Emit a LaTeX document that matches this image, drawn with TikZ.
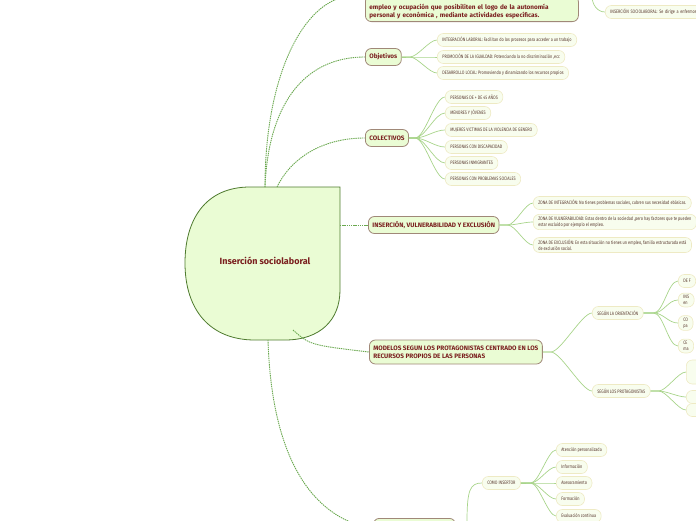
\documentclass[tikz,border=0pt]{standalone}
\usepackage{fontspec}
\setmainfont{Fira Sans}[FakeStretch=0.78]
\newfontfamily\headfont{Fira Sans}
\definecolor{rootfill}{HTML}{EAFCD4}
\definecolor{rootline}{HTML}{4E7A2E}
\definecolor{mainline}{HTML}{A08878}
\definecolor{maintext}{HTML}{7A1E1E}
\definecolor{leaffill}{HTML}{F8FDEE}
\definecolor{leafline}{HTML}{EEEAC4}
\definecolor{leaftext}{HTML}{5A3A30}
\definecolor{twigcol}{HTML}{A8D48A}
\definecolor{stemcol}{HTML}{6AA84F}
\tikzset{
  mainbox/.style={draw=mainline, line width=0.8pt, fill=rootfill, rounded corners=6pt,
    text=maintext, font=\headfont\fontsize{6.4}{7.6}\selectfont\bfseries, align=left,
    inner xsep=4pt, inner ysep=3pt, minimum height=17pt, anchor=west},
  leafbox/.style={draw=leafline, line width=0.6pt, fill=leaffill, rounded corners=6pt,
    text=leaftext, font=\fontsize{4.9}{6.4}\selectfont, align=left,
    inner xsep=5pt, inner ysep=2pt, minimum height=13pt, anchor=west},
  stem/.style={stemcol, line width=0.9pt, dash pattern=on 1.4pt off 0.8pt},
  twig/.style={twigcol, line width=0.7pt},
}
\begin{document}
\begin{tikzpicture}[x=1pt,y=-1pt]
\useasboundingbox (0,0) rectangle (696,520);
\clip (0,0) rectangle (696,520);

% centre
\draw[rootline, fill=rootfill, line width=0.8pt] (340,187) -- (250,187)
  .. controls (205,187) and (185,220) .. (185,263)
  .. controls (185,310) and (210,340) .. (255,340) -- (285,340)
  .. controls (320,340) and (340,320) .. (340,290) -- cycle;
\node[text=maintext, font=\headfont\fontsize{9}{11}\selectfont\bfseries] (root) at (265,261) {Inserción sociolaboral};
\coordinate (rootN) at (265,187);
\coordinate (rootS) at (268,340);

% top branch
\node[mainbox, anchor=south west, text width=205pt] (fines) at (365,22)
  {\phantom{x}\\empleo y ocupación que posibiliten el logo de la autonomía\\personal y económica , mediante actividades específicas.};
\coordinate (offtop) at (340,-2);
\coordinate (offtop2) at (592,-4);
\node[leafbox, text width=110pt] (socio) at (605,12) {INSERCIÓN SOCIOLABORAL: Se dirige a enfermos};
\draw[twig] (offtop2) to[out=-90,in=180] (socio.west);
\draw[stem] (rootN) .. controls (265,80) and (300,10) .. (offtop);

% objetivos
\node[mainbox] (obj) at (365,57) {Objetivos};
\node[leafbox] (o1) at (437,40) {INTEGRACIÓN LABORAL: Facilitan do los procesos para acceder a un trabajo};
\node[leafbox] (o2) at (437,57) {PROMOCIÓN DE LA IGUALDAD: Potenciando la no discriminación ,ecc};
\node[leafbox] (o3) at (437,73) {DESARROLLO LOCAL: Promoviendo y dinamizando los recursos propios};
\draw[stem] (rootN) .. controls (268,110) and (300,57) .. (obj.west);
\foreach \k in {o1,o2,o3}
  \draw[twig] (obj.east) -- ++(8,0) .. controls +(8,0) and +(-8,0) .. (\k.west);

% colectivos
\node[mainbox] (col) at (365,138) {COLECTIVOS};
\node[leafbox] (c1) at (445,97) {PERSONAS DE + DE 45 AÑOS};
\node[leafbox] (c2) at (445,113) {MENORES Y JÓVENES};
\node[leafbox] (c3) at (445,130) {MUJERES VICTIMAS DE LA VIOLENCIA DE GENERO};
\node[leafbox] (c4) at (445,147) {PERSONAS CON DISCAPACIDAD};
\node[leafbox] (c5) at (445,163) {PERSONAS INMIGRANTES};
\node[leafbox] (c6) at (445,179) {PERSONAS CON PROBLEMAS SOCIALES};
\draw[stem] (rootN) ++(12,0) .. controls (290,160) and (320,138) .. (col.west);
\foreach \k in {c1,c2,c3,c4,c5,c6}
  \draw[twig] (col.east) -- ++(6,0) .. controls +(10,0) and +(-10,0) .. (\k.west);

% insercion, vulnerabilidad y exclusion
\node[mainbox] (zon) at (368,225) {INSERCIÓN, VULNERABILIDAD Y EXCLUSIÓN};
\node[leafbox] (z1) at (533,203) {ZONA DE INTEGRACIÓN: No tienes problemas sociales, cubren sus necesidad ebásicas.};
\node[leafbox] (z2) at (533,222) {ZONA DE VULNERABILIDAD: Estas dentro de la sociedad ,pero hay factores que te pueden\\estar excluido por ejemplo el empleo.};
\node[leafbox] (z3) at (533,245) {ZONA DE EXCLUSIÓN: En esta situación no tienes un empleo, familia estructurada está\\de exclusión social.};
\coordinate (rootE) at (340,225);
\draw[stem] (rootE) -- (zon.west);
\foreach \k in {z1,z2,z3}
  \draw[twig] (zon.east) -- ++(8,0) .. controls +(8,0) and +(-8,0) .. (\k.west);

% modelos
\node[mainbox, minimum height=24pt] (mod) at (369,352) {MODELOS SEGUN LOS PROTAGONISTAS CENTRADO EN LOS\\RECURSOS PROPIOS DE LAS PERSONAS};
\node[leafbox] (m1) at (592,313) {SEGÚN LA ORIENTACIÓN};
\node[leafbox] (m2) at (592,391) {SEGÚN LOS PROTAGONISTAS};
\draw[stem] (rootS) ++(25,-10) .. controls (310,345) .. (mod.west);
\foreach \k in {m1,m2}
  \draw[twig] (mod.east) -- ++(8,0) .. controls +(10,0) and +(-10,0) .. (\k.west);
\node[leafbox] (r1) at (678,281) {DE F};
\node[leafbox] (r2) at (678,300) {INS\\en};
\node[leafbox] (r3) at (678,323) {CO\\pa};
\node[leafbox] (r4) at (678,346) {CE\\ma};
\foreach \k in {r1,r2,r3,r4}
  \draw[twig] (m1.east) -- ++(10,0) .. controls +(10,0) and +(-10,0) .. (\k.west);
\node[leafbox, minimum height=24pt, minimum width=30pt] (p1) at (686,372) {};
\node[leafbox, minimum width=30pt] (p2) at (686,397) {};
\node[leafbox, minimum width=30pt] (p3) at (686,410) {};
\foreach \k in {p1,p2,p3}
  \draw[twig] (m2.east) -- ++(8,0) .. controls +(8,0) and +(-8,0) .. (\k.west);

% bottom branch
\node[mainbox, anchor=north west, minimum width=82pt, minimum height=20pt] (ins) at (373,518) {};
\draw[stem] (rootS) .. controls (272,470) and (320,520) .. (ins.west);
\node[leafbox] (ci) at (482,483) {COMO INSERTOR};
\coordinate (cifork) at (467,522);
\draw[twig] (cifork) .. controls (467,490) and (470,483) .. (ci.west);
\node[leafbox] (b1) at (556,450) {Atención personalizada};
\node[leafbox] (b2) at (556,467) {Información};
\node[leafbox] (b3) at (556,483) {Asesoramiento};
\node[leafbox] (b4) at (556,499) {Formación};
\node[leafbox] (b5) at (556,516) {Evaluación continua};
\foreach \k in {b1,b2,b3,b4,b5}
  \draw[twig] (ci.east) -- ++(10,0) .. controls +(8,0) and +(-8,0) .. (\k.west);
\end{tikzpicture}
\end{document}
